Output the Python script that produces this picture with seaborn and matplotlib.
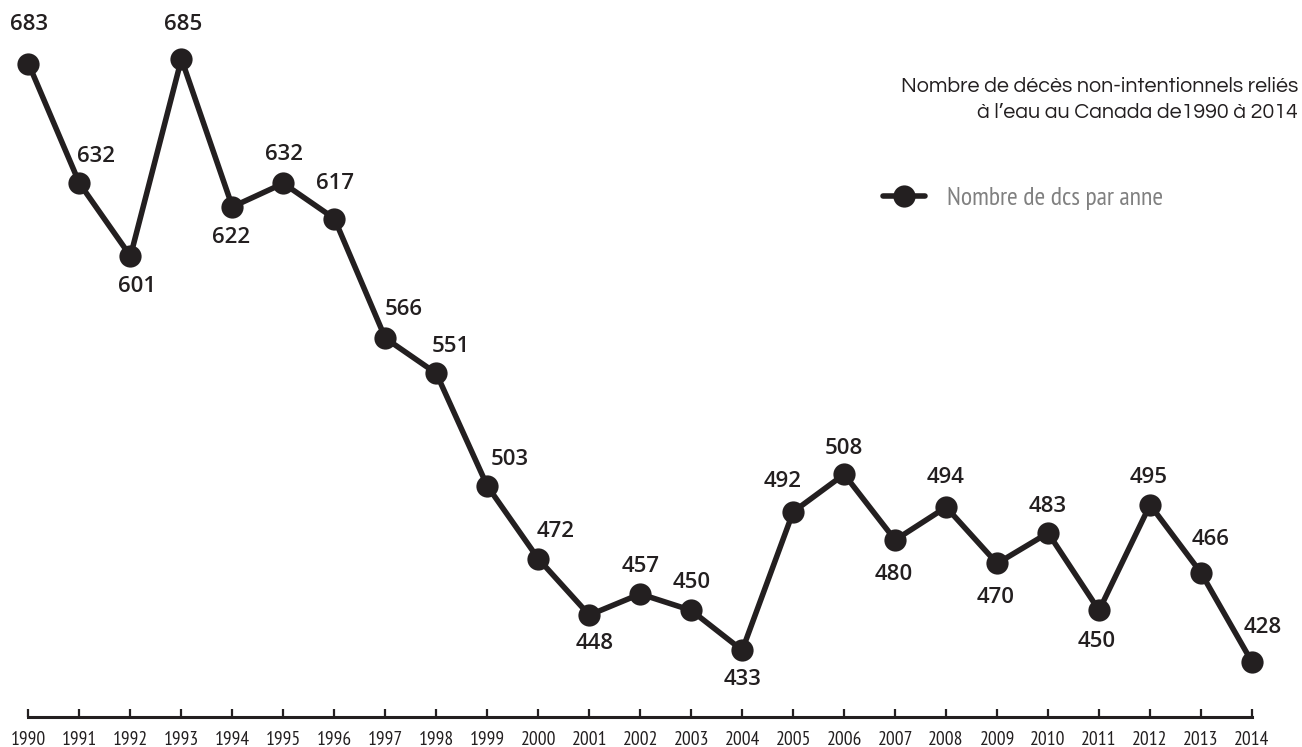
import matplotlib
matplotlib.use("Agg")
import matplotlib.pyplot as plt
import seaborn as sns
import pandas as pd
from matplotlib.lines import Line2D

years = list(range(1990, 2015))
deaths = [683, 632, 601, 685, 622, 632, 617, 566, 551, 503, 472, 448, 457,
          450, 433, 492, 508, 480, 494, 470, 483, 450, 495, 466, 428]
title_lines = ["Nombre de décès non-intentionnels reliés",
               "à l’eau au Canada de1990 à 2014"]
legend_label = "Nombre de dcs par anne"

# label offsets in pixels (dx right, dy up)
label_offsets = [(1, 39), (17, 27), (7, -30), (2, 35), (-1, -31), (1, 29),
                 (1, 35), (18, 29), (14, 27), (22, 27), (17, 27), (5, -28),
                 (0, 27), (0, 28), (0, -29), (-11, 30), (0, 26), (-1, -35),
                 (-1, 30), (-1, -34), (0, 26), (-2, -31), (-1, 27), (10, 33),
                 (11, 34)]

sns.set_theme(style="white")
plt.rcParams['font.family'] = ['Open Sans', 'DejaVu Sans']

W, H = 1302, 747
fig = plt.figure(figsize=(W / 100, H / 100), dpi=100)
ax = fig.add_axes([0, 1 - 717 / H, 1, 717 / H])
ax.patch.set_alpha(0)

ink = '#231f20'
df = pd.DataFrame({"year": years, "deaths": deaths})
sns.lineplot(data=df, x="year", y="deaths", ax=ax, color=ink, linewidth=4,
             marker='o', markersize=16, markeredgewidth=0, legend=False)

ax.set_xlim(1990 - 28.5 / 50.98, 2014 + 50 / 50.98)
ax.set_ylim(428 - 55 / 2.3463, 685 + 59 / 2.3463)

px2pt = 72 / 100
for yr, v, (dx, dy) in zip(years, deaths, label_offsets):
    ax.annotate(str(v), (yr, v), xytext=(dx * px2pt, dy * px2pt),
                textcoords='offset points', ha='center', va='center',
                fontsize=16, fontweight='semibold', color=ink,
                family=['Open Sans', 'DejaVu Sans'])

for s in ['top', 'right', 'left']:
    ax.spines[s].set_visible(False)
ax.spines['bottom'].set_color(ink)
ax.spines['bottom'].set_linewidth(2.2)
ax.spines['bottom'].set_bounds(1990, 2014)
ax.set_yticks([])
ax.set_xticks(years)
ax.set_xticklabels([str(y) for y in years],
                   family=['PT Sans Narrow', 'DejaVu Sans'],
                   fontsize=14, fontweight='normal', color=ink)
ax.tick_params(axis='x', direction='in', length=6, width=1.6, color=ink,
               pad=10, bottom=True)
ax.set_xlabel("")
ax.set_ylabel("")

fig.text(1298 / W, 1 - 87 / H, title_lines[0], ha='right', va='center',
         fontsize=15.5, color=ink, family=['Questrial', 'DejaVu Sans'])
fig.text(1298 / W, 1 - 112 / H, title_lines[1], ha='right', va='center',
         fontsize=15.5, color=ink, family=['Questrial', 'DejaVu Sans'])

handle = Line2D([], [], color=ink, linewidth=4, marker='o', markersize=16,
                markeredgewidth=0)
leg = fig.legend([handle], [legend_label], loc='center left',
                 bbox_to_anchor=(883 / W, 1 - 198 / H), frameon=False,
                 borderpad=0, borderaxespad=0, handlelength=1.65,
                 handletextpad=0.85,
                 prop={'family': ['PT Sans Narrow', 'DejaVu Sans'],
                       'size': 18.5})
for t in leg.get_texts():
    t.set_color('#808080')

fig.savefig("out.png", dpi=100)
